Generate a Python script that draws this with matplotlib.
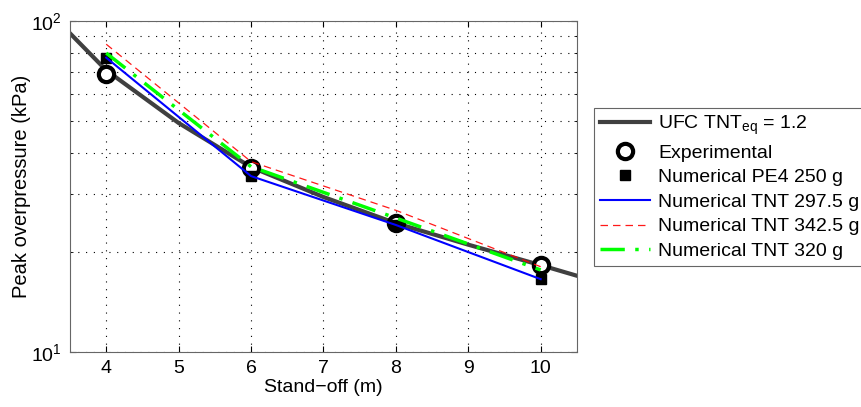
import matplotlib.pyplot as plt
from matplotlib.ticker import NullFormatter

plt.rcParams['font.family'] = ['Liberation Sans', 'DejaVu Sans']
plt.rcParams['mathtext.fontset'] = 'custom'
plt.rcParams['mathtext.rm'] = 'Liberation Sans'
plt.rcParams['mathtext.it'] = 'Liberation Sans'

# UFC curve
ufc_x = [3.5, 4, 5, 6, 7, 8, 9, 10, 10.5]
ufc_y = [91.8, 71.0, 49.2, 36.2, 29.4, 24.5, 21.1, 18.3, 17.0]

standoff = [4, 6, 8, 10]
experimental = [69.0, 35.9, 24.5, 18.3]
pe4_250 = [77.5, 34.0, 24.2, 16.6]
tnt_2975 = [77.5, 34.0, 24.2, 16.6]
tnt_3425 = [85.1, 37.6, 26.8, 18.1]
tnt_320 = [80.0, 36.3, 25.4, 17.7]

fig = plt.figure(figsize=(8.62, 4.07), dpi=100)
ax = fig.add_axes([0.0812, 0.1351, 0.588, 0.8133])

ax.semilogy(ufc_x, ufc_y, color=(0.25, 0.25, 0.25), lw=3, label=r'UFC TNT$_{\mathrm{eq}}$ = 1.2', zorder=2)
ax.semilogy(standoff, experimental, 'o', mfc='white', mec='black', mew=3, ms=11,
            linestyle='none', label='Experimental', zorder=3)
ax.semilogy(standoff, pe4_250, 's', color='black', ms=6.5, linestyle='none',
            label='Numerical PE4 250 g', zorder=4)
ax.semilogy(standoff, tnt_2975, color='blue', lw=1.5, label='Numerical TNT 297.5 g', zorder=5)
ax.semilogy(standoff, tnt_3425, color='red', lw=0.9, dashes=(6, 4), alpha=0.9,
            label='Numerical TNT 342.5 g', zorder=5)
ax.semilogy(standoff, tnt_320, color=(0, 1, 0), lw=2.5, dashes=(7, 3, 1, 3),
            label='Numerical TNT 320 g', zorder=5)

ax.set_xlim(3.5, 10.5)
ax.set_ylim(10, 100)
ax.set_xticks(range(4, 11))
ax.yaxis.set_minor_formatter(NullFormatter())
ax.grid(True, which='major', color='black', linestyle=(0, (1, 6)), lw=0.8)
ax.grid(True, which='minor', axis='y', color='black', linestyle=(0, (1, 6)), lw=0.8)
ax.tick_params(which='both', direction='in', top=True, right=True, labelsize=14, colors='black')
ax.tick_params(which='major', length=4, pad=6)
ax.tick_params(which='minor', length=2)
for s in ax.spines.values():
    s.set_color((0.4, 0.4, 0.4))

ax.set_xlabel('Stand\u2212off (m)', fontsize=14, labelpad=1)
ax.set_ylabel('Peak overpressure (kPa)', fontsize=14.5, labelpad=0)

leg = fig.legend(loc='upper left', bbox_to_anchor=(0.689, 0.7346), fontsize=14,
                 fancybox=False, framealpha=1, edgecolor=(0.4, 0.4, 0.4),
                 handlelength=2.6, borderpad=0.3, labelspacing=0.36, handletextpad=0.4,
                 borderaxespad=0)
leg.get_frame().set_linewidth(0.8)

fig.savefig('out.png', dpi=100)
